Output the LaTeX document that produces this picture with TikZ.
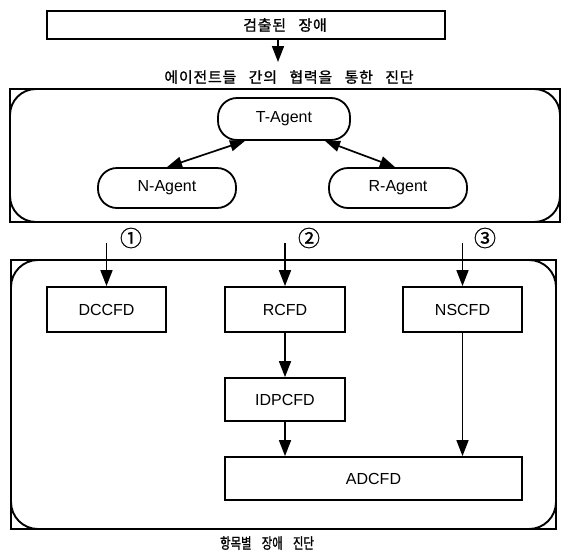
\documentclass[tikz,border=0pt]{standalone}
\usepackage{fontspec}
\setmainfont{Liberation Sans}
\newfontfamily\krfont[LetterSpace=5, WordSpace=3, FakeBold=1.1]{Noto Sans CJK KR}
\newfontfamily\krnarrow[FakeStretch=0.76, WordSpace=4, FakeBold=1.1]{Noto Sans CJK KR}
\newfontfamily\numfont[FakeBold=0.8]{Noto Sans CJK KR}
\usetikzlibrary{arrows.meta}

\tikzset{
  boxline/.style={line width=1.8pt},
  blockbox/.style={draw, boxline, inner sep=0pt, font=\fontsize{16}{16}\selectfont},
  agentbox/.style={draw, boxline, rounded corners=19pt, inner sep=0pt,
    font=\fontsize{16}{16}\selectfont},
  framebox/.style={draw, line width=1.9pt},
  krtext/.style={inner sep=0pt, font=\krfont\fontsize{15}{15}\selectfont},
  krnarrowtext/.style={inner sep=0pt, font=\krnarrow\fontsize{15}{15}\selectfont},
  numtext/.style={inner sep=0pt, font=\numfont\fontsize{22}{22}\selectfont},
  flow/.style={line width=1.7pt, -{Triangle[length=16pt,width=12pt]}},
  twoway/.style={line width=1.7pt, {Triangle[length=15pt,width=11pt]}-{Triangle[length=15pt,width=11pt]}},
}

\begin{document}
\begin{tikzpicture}[x=1pt,y=-1pt]
\useasboundingbox (0,0) rectangle (561,552);

% detected fault
\node[blockbox, minimum width=398pt, minimum height=28pt] (fault) at (246,25) {};
\node[krtext] (faulttxt) at (285,25) {검출된 장애};
\coordinate (faultout) at (278,39);
\coordinate (faultin) at (278,62);
\draw[flow] (faultout) -- (faultin);
\node[krtext] (coop) at (289,77) {에이전트들 간의 협력을 통한 진단};

% cooperation frame
\node[framebox, minimum width=550pt, minimum height=133pt] (upframe) at (285,155.5) {};
\node[framebox, rounded corners=26pt, minimum width=550pt, minimum height=133pt] (upround) at (285,155.5) {};

% agents
\node[agentbox, minimum width=132pt, minimum height=42pt] (T) at (284,119) {T-Agent};
\node[agentbox, minimum width=138pt, minimum height=40pt] (N) at (167,188) {N-Agent};
\node[agentbox, minimum width=138pt, minimum height=40pt] (R) at (398,188) {R-Agent};
\draw[twoway] ([xshift=-39pt]T.south) -- (N.north);
\draw[twoway] ([xshift=41pt]T.south) -- ([xshift=-3pt]R.north);

% per-item diagnosis frame
\node[framebox, minimum width=545pt, minimum height=269pt] (loframe) at (283.5,394.5) {};
\node[framebox, rounded corners=27pt, minimum width=545pt, minimum height=269pt] (loround) at (283.5,394.5) {};

\node[blockbox, minimum width=119pt, minimum height=45pt] (DC) at (106.5,309.5) {DCCFD};
\node[blockbox, minimum width=120pt, minimum height=45pt] (RC) at (285,309.5) {RCFD};
\node[blockbox, minimum width=119pt, minimum height=45pt] (NS) at (462.5,309.5) {NSCFD};
\node[blockbox, minimum width=120pt, minimum height=43pt] (IDP) at (285,399.5) {IDPCFD};
\node[blockbox, minimum width=297pt, minimum height=43pt] (AD) at (373.5,478.5) {ADCFD};

\coordinate (in1) at (106.5,243);
\coordinate (in2) at (285,243);
\coordinate (in3) at (462.5,243);
\node[numtext] (n1) at (131,238) {①};
\node[numtext] (n2) at (309,238) {②};
\node[numtext] (n3) at (485,238) {③};

\draw[flow] (in1) -- (DC.north);
\draw[flow] (in2) -- (RC.north);
\draw[flow] (in3) -- (NS.north);
\draw[flow] (RC.south) -- (IDP.north);
\draw[flow] (IDP.south) -- (IDP.south |- AD.north);
\draw[flow] (NS.south) -- (NS.south |- AD.north);

\node[krnarrowtext] (itemdiag) at (267,543) {항목별 장애 진단};
\end{tikzpicture}
\end{document}
